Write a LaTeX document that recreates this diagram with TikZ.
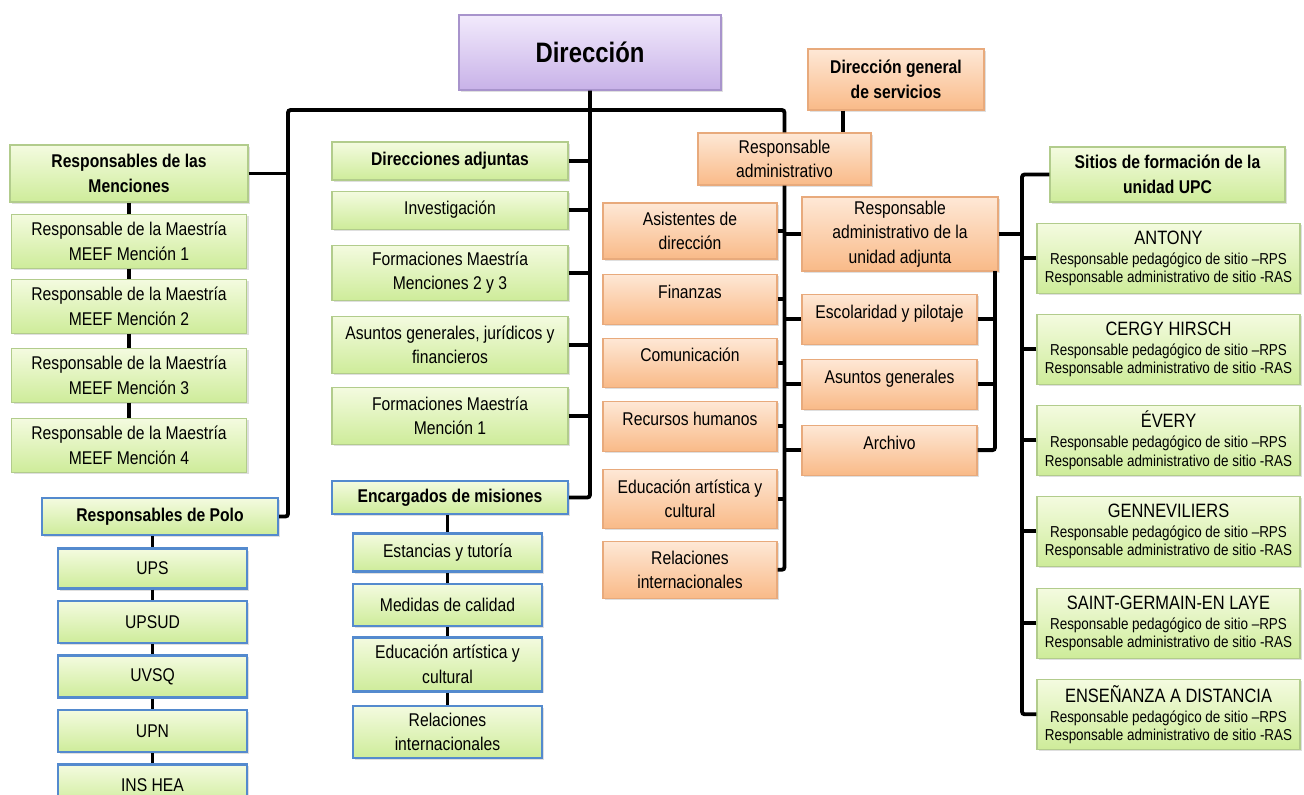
\documentclass[tikz,border=0pt]{standalone}
\usepackage{fontspec}
\setmainfont{Liberation Sans}[FakeStretch=0.85]
\usepackage{tikz}
\usetikzlibrary{positioning, shadows, calc}

\definecolor{greentop}{RGB}{244,251,224}
\definecolor{greenbot}{RGB}{206,236,154}
\definecolor{greenline}{RGB}{178,204,140}
\definecolor{blueline}{RGB}{84,138,206}
\definecolor{orangetop}{RGB}{254,232,214}
\definecolor{orangebot}{RGB}{249,186,136}
\definecolor{orangeline}{RGB}{232,170,124}
\definecolor{purpletop}{RGB}{242,234,252}
\definecolor{purplebot}{RGB}{200,178,232}
\definecolor{purpleline}{RGB}{168,148,204}

\newcommand{\sitio}[1]{{\fontsize{11}{11}\selectfont #1}\\[1pt]Responsable pedagógico de sitio –RPS\\Responsable administrativo de sitio -RAS}

\begin{document}
\begin{tikzpicture}[
  x=0.02cm, y=-0.02cm,
  boxsize/.style 2 args={minimum width=#1*0.02cm, minimum height=#2*0.02cm},
  boxbase/.style={rectangle, inner sep=2pt, align=center, font=\fontsize{10.5}{14}\selectfont, drop shadow={shadow xshift=1.2pt, shadow yshift=-1.2pt, opacity=0.25}},
  greennode/.style={boxbase, draw=greenline, line width=0.6pt, top color=greentop, bottom color=greenbot},
  bluenode/.style={greennode, draw=blueline, line width=1.4pt},
  orangenode/.style={boxbase, draw=orangeline, line width=0.6pt, top color=orangetop, bottom color=orangebot},
  topnode/.style={boxbase, draw=purpleline, line width=0.6pt, top color=purpletop, bottom color=purplebot, font=\fontsize{16}{18}\selectfont\bfseries},
  sitenode/.style={greennode, font=\fontsize{9}{10.4}\selectfont},
  headtext/.style={font=\fontsize{10.5}{14}\selectfont\bfseries},
  uptext/.style={text depth=0.3cm},
  link/.style={line width=2.2pt, black, rounded corners=1.5pt}
]
\useasboundingbox (0,0) rectangle (1304,794);

\node[topnode, boxsize={262}{75}] (Dir) at (590,52.5) {Dirección};
\node[orangenode, headtext, boxsize={176}{61}] (DGS) at (896,79.5) {Dirección general\\de servicios};
\node[orangenode, boxsize={173}{52}] (R_Adm) at (784.5,159) {Responsable\\administrativo};

% Menciones y Polo
\node[greennode, headtext, boxsize={238}{57}] (Men) at (129,173.5) {Responsables de las\\Menciones};
\node[greennode, boxsize={235}{54}] (Men_1) [below=0.22cm of Men] {Responsable de la Maestría\\MEEF Mención 1};
\node[greennode, boxsize={235}{54}] (Men_2) [below=0.2cm of Men_1] {Responsable de la Maestría\\MEEF Mención 2};
\node[greennode, boxsize={235}{54}] (Men_3) [below=0.28cm of Men_2] {Responsable de la Maestría\\MEEF Mención 3};
\node[greennode, boxsize={235}{54}] (Men_4) [below=0.3cm of Men_3] {Responsable de la Maestría\\MEEF Mención 4};

\node[bluenode, headtext, boxsize={236}{37}] (Polo) at (160,516.5) {Responsables de Polo};
\node[bluenode, boxsize={189}{40}] (UPS) [below=0.22cm of Polo, xshift=-0.15cm] {UPS};
\node[bluenode, boxsize={189}{42}] (UPSUD) [below=0.2cm of UPS] {UPSUD};
\node[bluenode, boxsize={189}{42}] (UVSQ) [below=0.2cm of UPSUD] {UVSQ};
\node[bluenode, boxsize={189}{42}] (UPN) [below=0.2cm of UVSQ] {UPN};
\node[bluenode, boxsize={189}{42}] (INS_HEA) [below=0.2cm of UPN] {INS HEA};

% Direcciones adjuntas y misiones
\node[greennode, headtext, boxsize={236}{38}] (DAdj) at (450,161) {Direcciones adjuntas};
\node[greennode, boxsize={236}{38}] (Inv) [below=0.2cm of DAdj] {Investigación};
\node[greennode, boxsize={236}{55}] (F_23) [below=0.3cm of Inv] {Formaciones Maestría\\Menciones 2 y 3};
\node[greennode, boxsize={236}{57}] (Asun) [below=0.3cm of F_23] {Asuntos generales, jurídicos y\\financieros};
\node[greennode, boxsize={236}{57}] (F_1) [below=0.26cm of Asun] {Formaciones Maestría\\Mención 1};
\node[bluenode, headtext, boxsize={236}{33}] (Enc) [below=0.7cm of F_1] {Encargados de misiones};
\node[bluenode, boxsize={189}{38}] (Est) [below=0.34cm of Enc, xshift=-0.05cm] {Estancias y tutoría};
\node[bluenode, boxsize={189}{42}] (Med) [below=0.2cm of Est] {Medidas de calidad};
\node[bluenode, boxsize={189}{54}] (Edu) [below=0.18cm of Med] {Educación artística y\\cultural};
\node[bluenode, boxsize={189}{52}] (Rel) [below=0.24cm of Edu] {Relaciones\\internacionales};

% Servicios
\node[orangenode, boxsize={174}{56}] (Asis) at (690,231) {Asistentes de\\dirección};
\node[orangenode, uptext, boxsize={174}{50}] (Fin) [below=0.28cm of Asis] {Finanzas};
\node[orangenode, uptext, boxsize={174}{49}] (Com) [below=0.26cm of Fin] {Comunicación};
\node[orangenode, uptext, boxsize={174}{50}] (RH) [below=0.26cm of Com] {Recursos humanos};
\node[orangenode, boxsize={174}{59}] (EduA) [below=0.34cm of RH] {Educación artística y\\cultural};
\node[orangenode, boxsize={174}{57}] (RelI) [below=0.24cm of EduA] {Relaciones\\internacionales};

\node[orangenode, boxsize={196}{74}] (R_Adu) at (900,234) {Responsable\\administrativo de la\\unidad adjunta};
\node[orangenode, uptext, boxsize={175}{50}] (Esc) [below=0.44cm of R_Adu, xshift=-0.21cm] {Escolaridad y pilotaje};
\node[orangenode, uptext, boxsize={175}{50}] (Asg) [below=0.28cm of Esc] {Asuntos generales};
\node[orangenode, uptext, boxsize={175}{50}] (Arch) [below=0.3cm of Asg] {Archivo};

% Sitios
\node[greennode, headtext, boxsize={235}{55}] (Sit) at (1167.5,174.5) {Sitios de formación de la\\unidad UPC};
\node[sitenode, boxsize={263}{70}] (S_1) [below=0.4cm of Sit, xshift=0.02cm] {\sitio{ANTONY}};
\node[sitenode, boxsize={263}{70}] (S_2) [below=0.4cm of S_1] {\sitio{CERGY HIRSCH}};
\node[sitenode, boxsize={263}{70}] (S_3) [below=0.4cm of S_2] {\sitio{ÉVERY}};
\node[sitenode, boxsize={263}{70}] (S_4) [below=0.4cm of S_3] {\sitio{GENNEVILIERS}};
\node[sitenode, boxsize={263}{70}] (S_5) [below=0.42cm of S_4] {\sitio{SAINT-GERMAIN-EN LAYE}};
\node[sitenode, boxsize={263}{70}] (S_6) [below=0.4cm of S_5] {\sitio{ENSEÑANZA A DISTANCIA}};

\coordinate (BusL) at (288,110);
\coordinate (DGS_foot) at (843,110);
\coordinate (BusA) at (995,271);
\coordinate (BusS) at (1022,174.5);

% main bus
\draw[link] (Polo.east) -| (BusL) -| (R_Adm.north);
\draw[link] (Men.east) -- (Men.east -| BusL);
\draw[link] (DGS.south -| DGS_foot) -- (R_Adm.north -| DGS_foot);

\draw[link] (Dir.south) |- (Enc.east);
\draw[link] (DAdj.east) -- (DAdj.east -| Dir.south);
\draw[link] (Inv.east) -- (Inv.east -| Dir.south);
\draw[link] (F_23.east) -- (F_23.east -| Dir.south);
\draw[link] (Asun.east) -- (Asun.east -| Dir.south);
\draw[link] (F_1.east) -- (F_1.east -| Dir.south);

\draw[link] (Men.south) -- (Men_1.north);
\draw[link] (Men_1.south) -- (Men_2.north);
\draw[link] (Men_2.south) -- (Men_3.north);
\draw[link] (Men_3.south) -- (Men_4.north);

\draw[link] (UPS.north |- Polo.south) -- (UPS.north);
\draw[link] (UPS.south) -- (UPSUD.north);
\draw[link] (UPSUD.south) -- (UVSQ.north);
\draw[link] (UVSQ.south) -- (UPN.north);
\draw[link] (UPN.south) -- (INS_HEA.north);

\draw[link] (Est.north |- Enc.south) -- (Est.north);
\draw[link] (Est.south) -- (Med.north);
\draw[link] (Med.south) -- (Edu.north);
\draw[link] (Edu.south) -- (Rel.north);

% servicios
\draw[link] (R_Adm.south) |- (RelI.east);
\draw[link] (Asis.east) -- (Asis.east -| R_Adm.south);
\draw[link] (Fin.east) -- (Fin.east -| R_Adm.south);
\draw[link] (Com.east) -- (Com.east -| R_Adm.south);
\draw[link] (RH.east) -- (RH.east -| R_Adm.south);
\draw[link] (EduA.east) -- (EduA.east -| R_Adm.south);
\draw[link] (R_Adu.west) -- (R_Adu.west -| R_Adm.south);
\draw[link] (Esc.west) -- (Esc.west -| R_Adm.south);
\draw[link] (Asg.west) -- (Asg.west -| R_Adm.south);
\draw[link] (Arch.west) -- (Arch.west -| R_Adm.south);

\draw[link] (BusA) |- (Arch.east);
\draw[link] (Esc.east) -- (Esc.east -| BusA);
\draw[link] (Asg.east) -- (Asg.east -| BusA);

% sitios
\draw[link] (Sit.west) -- (BusS) |- (S_6.west);
\draw[link] (R_Adu.east) -- (R_Adu.east -| BusS);
\draw[link] (S_1.west) -- (S_1.west -| BusS);
\draw[link] (S_2.west) -- (S_2.west -| BusS);
\draw[link] (S_3.west) -- (S_3.west -| BusS);
\draw[link] (S_4.west) -- (S_4.west -| BusS);
\draw[link] (S_5.west) -- (S_5.west -| BusS);
\end{tikzpicture}
\end{document}
